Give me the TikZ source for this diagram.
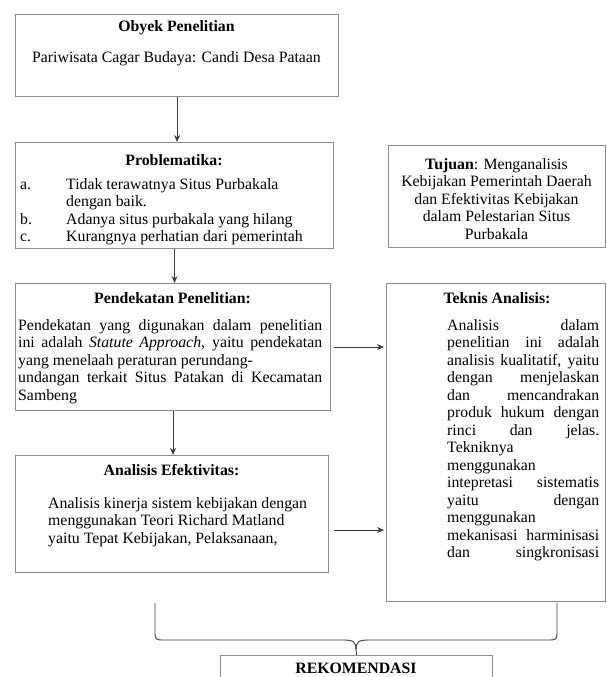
\documentclass[tikz,border=0pt]{standalone}
\usepackage{fontspec}
\setmainfont{Liberation Serif}
\usetikzlibrary{arrows.meta}
\definecolor{frameGray}{RGB}{140,140,140}
\definecolor{arrowDark}{RGB}{60,60,60}

\newcommand{\diagfont}{\fontsize{15.8}{17.5}\selectfont}
\newcommand{\jline}[2]{\makebox[#1][s]{#2}}

\begin{document}
\begin{tikzpicture}[
  x=1pt, y=-1pt,
  box/.style={draw=frameGray, line width=1.1pt, inner sep=0pt, anchor=north west},
  boxtitle/.style={font=\diagfont\bfseries, inner sep=0pt, anchor=base},
  boxbody/.style={font=\diagfont, inner sep=0pt, anchor=base west, align=left},
  arr/.style={arrowDark, line width=0.9pt, -{Stealth[length=7pt,width=6pt]}},
  brace/.style={arrowDark, line width=0.9pt},
]

%% ── page frame: 1pt = 1px of the 606 x 677 sheet ────────
\useasboundingbox (0,0) rectangle (606,677);
\clip (0,0) rectangle (606,677);

%% ── text widths & line pitch ─────────────────────────────
%% body nodes are placed at the baseline of their LAST line
\def\tw{152pt}    % Teknis text width
\def\pw{304pt}    % Pendekatan text width
\def\lp{17.5}     % line pitch

%% ── frames ───────────────────────────────────────────────
\node[box, minimum width=323pt, minimum height=82pt]  (obyek)       at (15,14)   {};
\node[box, minimum width=318pt, minimum height=106pt] (problem)     at (15,142)  {};
\node[box, minimum width=217pt, minimum height=102pt] (tujuan)      at (388,145) {};
\node[box, minimum width=315pt, minimum height=127pt] (pendekatan)  at (15,283)  {};
\node[box, minimum width=313pt, minimum height=117pt] (efektivitas) at (15,455)  {};
\node[box, minimum width=219pt, minimum height=318pt] (teknis)      at (386,283) {};
\node[box, minimum width=272pt, minimum height=60pt]  (rekom)       at (220,655) {};

%% ── Obyek Penelitian ─────────────────────────────────────
\node[boxtitle] (obyekT) at (176.5,32) {Obyek Penelitian};
\node[boxtitle, font=\diagfont] (obyekB) at (176.5,63)
     {Pariwisata Cagar Budaya: Candi Desa Pataan};

%% ── Problematika (first line at 189) ─────────────────────
\node[boxtitle] (problemT) at (174,165) {Problematika:};
\node[boxbody] (problemB) at (20,{189+3*\lp})
     {\makebox[46pt][l]{a.}Tidak terawatnya Situs Purbakala\\
      \makebox[46pt][l]{}dengan baik.\\
      \makebox[46pt][l]{b.}Adanya situs purbakala yang hilang\\
      \makebox[46pt][l]{c.}Kurangnya perhatian dari pemerintah};

%% ── Tujuan (first line at 169) ───────────────────────────
\node[boxbody, anchor=base, align=center] (tujuanB) at (496.5,{169+4*\lp})
     {\textbf{Tujuan}: Menganalisis\\
      Kebijakan Pemerintah Daerah\\
      dan Efektivitas Kebijakan\\
      dalam Pelestarian Situs\\
      Purbakala};

%% ── Pendekatan Penelitian (first line at 330) ────────────
\node[boxtitle] (pendekatanT) at (172.5,303) {Pendekatan Penelitian:};
\node[boxbody] (pendekatanB) at (18,{330+4*\lp})
     {\jline{\pw}{Pendekatan yang digunakan dalam penelitian}\\
      \jline{\pw}{ini adalah \textit{Statute Approach}, yaitu pendekatan}\\
      yang menelaah peraturan perundang-\\
      \jline{\pw}{undangan terkait Situs Patakan di Kecamatan}\\
      Sambeng};

%% ── Analisis Efektivitas (first line at 508) ─────────────
\node[boxtitle] (efektivitasT) at (171.5,475) {Analisis Efektivitas:};
\node[boxbody] (efektivitasB) at (48,{508+2*\lp})
     {Analisis kinerja sistem kebijakan dengan\\
      menggunakan Teori Richard Matland\\
      yaitu Tepat Kebijakan, Pelaksanaan,};

%% ── Teknis Analisis (first line at 330) ──────────────────
\node[boxtitle] (teknisT) at (497,303) {Teknis Analisis:};
\node[boxbody] (teknisB) at (447,{330+13*\lp})
     {\jline{\tw}{Analisis dalam}\\
      \jline{\tw}{penelitian ini adalah}\\
      \jline{\tw}{analisis kualitatif, yaitu}\\
      \jline{\tw}{dengan menjelaskan}\\
      \jline{\tw}{dan mencandrakan}\\
      \jline{\tw}{produk hukum dengan}\\
      \jline{\tw}{rinci dan jelas.}\\
      Tekniknya\\
      menggunakan\\
      \jline{\tw}{intepretasi sistematis}\\
      \jline{\tw}{yaitu dengan}\\
      menggunakan\\
      \jline{\tw}{mekanisasi harminisasi}\\
      \jline{\tw}{dan singkronisasi}};

%% ── Rekomendasi ──────────────────────────────────────────
\node[boxtitle] (rekomT) at (356,673) {REKOMENDASI};

%% ── arrows ───────────────────────────────────────────────
\draw[arr] (obyek.south) -- (obyek.south |- problem.north);
\draw[arr] (problem.south) -- (problem.south |- pendekatan.north);
\draw[arr] (pendekatan.south) -- (pendekatan.south |- efektivitas.north);
\coordinate (pendOut) at ([xshift=3pt]pendekatan.east);
\draw[arr, shorten >=2pt] (pendOut) -- (pendOut -| teknis.west);
\coordinate (effOut) at ([xshift=5pt,yshift=-16pt]efektivitas.east);
\draw[arr, shorten >=2pt] (effOut) -- (effOut -| teknis.west);

%% ── brace down to the recommendation ─────────────────────
\coordinate (braceL) at (155,603);
\coordinate (braceR) at (557,603);
\draw[brace] (braceL) -- (155,630) .. controls (155,640) .. (165,640)
             -- (343,640) .. controls (354,640) and (356,642) .. (356,650)
             -- (rekom.north);
\draw[brace] (braceR) -- (557,630) .. controls (557,640) .. (547,640)
             -- (369,640) .. controls (358,640) and (356,642) .. (356,650);

\end{tikzpicture}
\end{document}
